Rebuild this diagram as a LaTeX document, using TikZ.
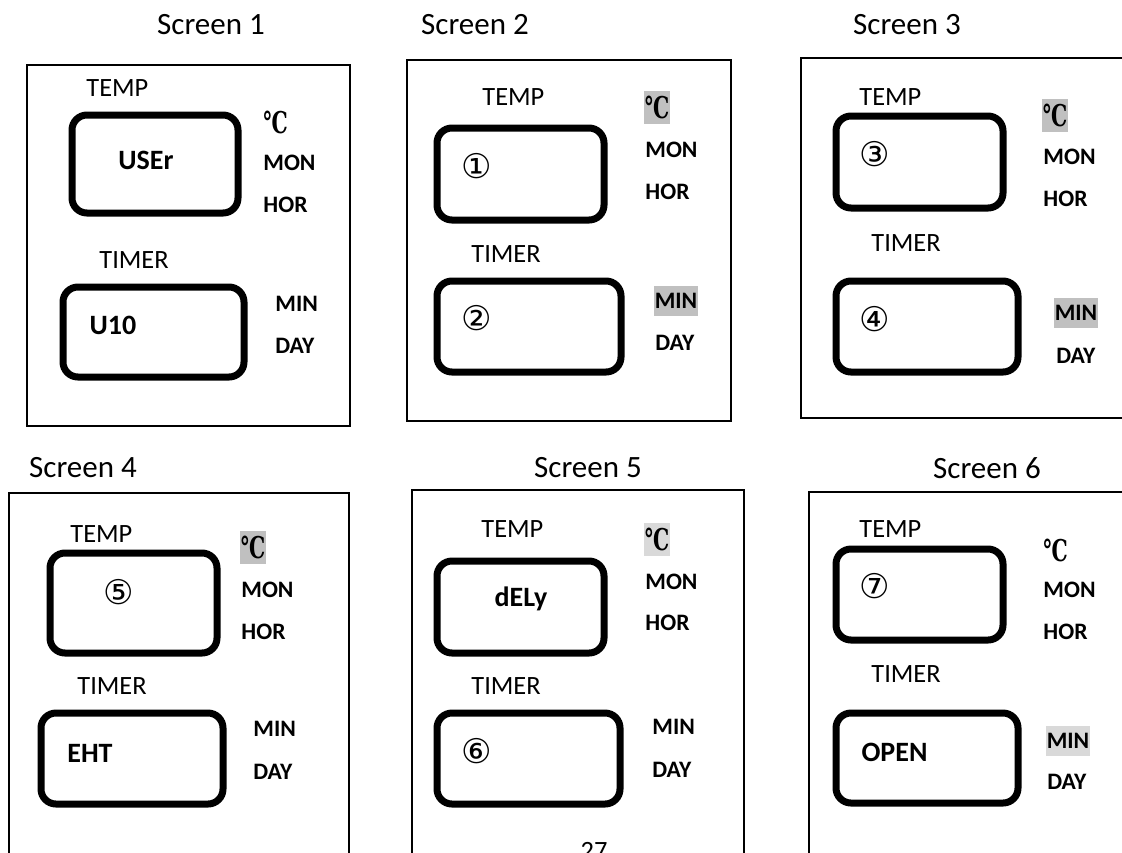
\documentclass[tikz,border=0pt]{standalone}
\usepackage{fontspec}
\setmainfont{Carlito}
\newfontfamily\symfont{DejaVu Sans}
\newfontfamily\degfont[FakeStretch=0.68]{DejaVu Serif Bold}
\usetikzlibrary{positioning}

\definecolor{litgray}{RGB}{192, 192, 192}
\definecolor{palegray}{RGB}{217, 217, 217}

\begin{document}
\begin{tikzpicture}[x=0.5pt, y=-0.5pt,
  frame/.style={draw, line width=1pt},
  lcd/.style={draw, line width=3.5pt, rounded corners=7.5pt},
  title/.style={font=\fontsize{15.5}{18}\selectfont, inner sep=0pt},
  lbl/.style={font=\fontsize{13.2}{16}\selectfont, inner sep=0pt, anchor=west},
  unit/.style={font=\fontsize{11.8}{14}\selectfont\bfseries, inner sep=0pt, anchor=west},
  deg/.style={font={\degfont\fontsize{15}{17}\selectfont}, inner sep=0pt, anchor=west},
  val/.style={font=\fontsize{14}{16}\selectfont\bfseries, inner sep=0pt},
  num/.style={font={\symfont\fontsize{17}{20}\selectfont}, inner sep=0pt},
  lit/.style={fill=litgray, anchor=center, inner sep=0pt, minimum width=13pt, minimum height=16.5pt},
  litmin/.style={fill=litgray, anchor=center, inner sep=0pt, minimum width=22pt, minimum height=15pt}]
  \useasboundingbox (0,0) rectangle (1122,852);

  % Titles and outer frames
  \foreach \i/\x/\y in {1/211/25, 2/475/25, 3/907/25, 4/83/468, 5/588/468, 6/987/468}
    \node[title] (s\i title) at (\x,\y) {Screen \i};
  \draw[frame] (27,65) rectangle (350,426);
  \draw[frame] (407,60) rectangle (731,421);
  \draw[frame] (801,58) rectangle (1130,418);
  \draw[frame] (9,493) rectangle (349,860);
  \draw[frame] (412,490) rectangle (744,860);
  \draw[frame] (809,492) rectangle (1130,860);

  % Screen 1
  \node[lbl] (s1temp) at (86,88) {TEMP};
  \draw[lcd] (72,115) rectangle (238,213);
  \node[val] (s1tval) at (146,160) {USEr};
  \node[deg] (s1deg) at (263,122) {℃};
  \node[unit] (s1mon) at (263,163) {MON};
  \node[unit] (s1hor) at (263,205) {HOR};
  \node[lbl] (s1timer) at (99,260) {TIMER};
  \draw[lcd] (63,287) rectangle (244,377);
  \node[val] (s1mval) at (113,325) {U10};
  \node[unit] (s1min) at (275,304) {MIN};
  \node[unit] (s1day) at (275,346) {DAY};

  % Screen 2
  \node[lbl] (s2temp) at (482,97) {TEMP};
  \draw[lcd] (437,128) rectangle (604,220);
  \node[num] (s2tval) at (477,166) {①};
  \node[deg, lit] (s2deg) at (657,107.5) {℃};
  \node[unit] (s2mon) at (645,150) {MON};
  \node[unit] (s2hor) at (645,192) {HOR};
  \node[lbl] (s2timer) at (471,254) {TIMER};
  \draw[lcd] (437,281) rectangle (621,372);
  \node[num] (s2mval) at (477,318) {②};
  \node[unit, litmin] (s2min) at (676,301) {MIN};
  \node[unit] (s2day) at (655,343) {DAY};

  % Screen 3
  \node[lbl] (s3temp) at (859,97) {TEMP};
  \draw[lcd] (836,116) rectangle (1003,208);
  \node[num] (s3tval) at (875,154) {③};
  \node[deg, lit] (s3deg) at (1055,115.5) {℃};
  \node[unit] (s3mon) at (1043,157) {MON};
  \node[unit] (s3hor) at (1043,199) {HOR};
  \node[lbl] (s3timer) at (871,243) {TIMER};
  \draw[lcd] (836,281) rectangle (1018,372);
  \node[num] (s3mval) at (875,319) {④};
  \node[unit, litmin] (s3min) at (1076,313) {MIN};
  \node[unit] (s3day) at (1056,356) {DAY};

  % Screen 4
  \node[lbl] (s4temp) at (70,534) {TEMP};
  \draw[lcd] (50,553) rectangle (217,653);
  \node[num] (s4tval) at (119,592) {⑤};
  \node[deg, lit] (s4deg) at (253,547.5) {℃};
  \node[unit] (s4mon) at (241,590) {MON};
  \node[unit] (s4hor) at (241,632) {HOR};
  \node[lbl] (s4timer) at (77,686) {TIMER};
  \draw[lcd] (41,713) rectangle (223,804);
  \node[val] (s4mval) at (90,753) {EHT};
  \node[unit] (s4min) at (253,729) {MIN};
  \node[unit] (s4day) at (253,772) {DAY};

  % Screen 5
  \node[lbl] (s5temp) at (481,529) {TEMP};
  \draw[lcd] (437,561) rectangle (604,653);
  \node[val] (s5tval) at (521,599) {dELy};
  \node[deg, lit, fill=palegray] (s5deg) at (657,539.5) {℃};
  \node[unit] (s5mon) at (645,582) {MON};
  \node[unit] (s5hor) at (645,623) {HOR};
  \node[lbl] (s5timer) at (471,686) {TIMER};
  \draw[lcd] (437,713) rectangle (620,804);
  \node[num] (s5mval) at (477,751) {⑥};
  \node[unit] (s5min) at (652,727) {MIN};
  \node[unit] (s5day) at (652,770) {DAY};
  \node[lbl, anchor=center] (page) at (594,851) {27};

  % Screen 6
  \node[lbl] (s6temp) at (859,529) {TEMP};
  \draw[lcd] (836,549) rectangle (1003,640);
  \node[num] (s6tval) at (875,586) {⑦};
  \node[deg] (s6deg) at (1043,550) {℃};
  \node[unit] (s6mon) at (1043,590) {MON};
  \node[unit] (s6hor) at (1043,632) {HOR};
  \node[lbl] (s6timer) at (871,674) {TIMER};
  \draw[lcd] (836,713) rectangle (1018,803);
  \node[val] (s6mval) at (894.5,752) {OPEN};
  \node[unit, litmin, fill=palegray] (s6min) at (1068,741) {MIN};
  \node[unit] (s6day) at (1047,782) {DAY};
\end{tikzpicture}
\end{document}
